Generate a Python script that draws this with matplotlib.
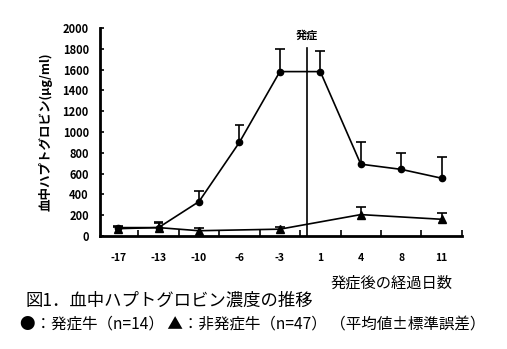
import numpy as np
import matplotlib
matplotlib.use("Agg")
import matplotlib.pyplot as plt

plt.rcParams['font.family'] = ['Noto Sans CJK JP', 'DejaVu Sans']

# days relative to onset (categorical axis)
days = ["-17", "-13", "-10", "-6", "-3", "1", "4", "8", "11"]

# onset cows (n=14): mean and upper end of SE bar
sick_mean = [80, 80, 330, 900, 1580, 1580, 690, 640, 555]
sick_upper = [95, 135, 430, 1070, 1800, 1780, 905, 800, 760]

# non-onset cows (n=47): days with values
well_idx = [0, 1, 2, 4, 6, 8]
well_mean = [70, 80, 50, 65, 205, 160]
well_upper = [85, 120, 80, 90, 280, 220]

onset_pos = 4.67

fig = plt.figure(figsize=(5.07, 3.49), dpi=100)
ax = fig.add_axes([0.197, 0.324, 0.714, 0.596])

x = np.arange(len(days))
lw = 1.2

ax.plot(x, sick_mean, color="black", lw=lw, marker="o", ms=4.5, zorder=3)
ax.vlines(x, sick_mean, sick_upper, color="black", lw=lw)
ax.hlines(sick_upper, x - 0.12, x + 0.12, color="black", lw=lw)

wx = np.array(well_idx)
ax.plot(wx, well_mean, color="black", lw=lw, marker="^", ms=5.5, zorder=3)
ax.vlines(wx, well_mean, well_upper, color="black", lw=lw)
ax.hlines(well_upper, wx - 0.12, wx + 0.12, color="black", lw=lw)

# onset marker
ax.plot([onset_pos, onset_pos], [0, 1810], color="black", lw=lw)
ax.text(onset_pos, 1870, "発症", ha="center", va="bottom", fontsize=8,
        fontweight="bold")

ax.set_xlim(-0.45, 8.5)
ax.set_ylim(0, 2000)
ax.set_yticks(np.arange(0, 2001, 200))
ax.set_xticks(x)
ax.set_xticklabels(days, fontsize=7.5, fontweight="bold")
ax.set_xticks(np.arange(0.5, 8.6, 1), minor=True)
ax.tick_params(axis="x", which="major", length=0, pad=12)
ax.tick_params(axis="x", which="minor", direction="in", length=4, width=1.2)
ax.tick_params(axis="y", direction="in", length=3, width=1.2,
               labelsize=8, pad=8)
for lab in ax.get_yticklabels():
    lab.set_fontweight("bold")

for side in ["top", "right"]:
    ax.spines[side].set_visible(False)
for side in ["left", "bottom"]:
    ax.spines[side].set_linewidth(2)

ax.set_ylabel("血中ハプトグロビン(μg/ml)", fontsize=9, fontweight="bold",
              labelpad=7)

fig.text(0.652, 0.188, "発症後の経過日数", fontsize=11, ha="left", va="center")
fig.text(0.05, 0.138, "図1．血中ハプトグロビン濃度の推移", fontsize=12.5,
         ha="left", va="center")
fig.text(0.04, 0.07, "●：発症牛（n=14） ▲：非発症牛（n=47） （平均値±標準誤差）",
         fontsize=11.2, ha="left", va="center")

fig.savefig("out.png", dpi=100)
